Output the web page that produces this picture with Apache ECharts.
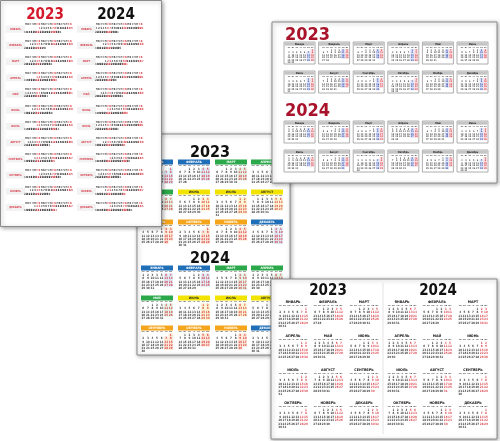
<!DOCTYPE html>
<html><head><meta charset="utf-8">
<script src="https://cdn.jsdelivr.net/npm/echarts@6/dist/echarts.min.js"></script>
<style>html,body{margin:0;padding:0;background:#fff}#c{width:500px;height:441px}</style>
</head><body><div id="c"></div>
<script>
const years = [2023, 2024];
const monthsUpper = ['ЯНВАРЬ','ФЕВРАЛЬ','МАРТ','АПРЕЛЬ','МАЙ','ИЮНЬ','ИЮЛЬ','АВГУСТ','СЕНТЯБРЬ','ОКТЯБРЬ','НОЯБРЬ','ДЕКАБРЬ'];
const monthsTitle = ['Январь','Февраль','Март','Апрель','Май','Июнь','Июль','Август','Сентябрь','Октябрь','Ноябрь','Декабрь'];
const dayNames = ['Вс','Пн','Вт','Ср','Чт','Пт','Сб'];
const dayLetters = ['П','В','С','Ч','П','С','В'];
const seasonColors = ['#1f6fb8','#1f6fb8','#2aa84a','#2aa84a','#2aa84a','#f2e400','#f2e400','#f2e400','#f5a51c','#f5a51c','#f5a51c','#1f6fb8'];
const seasonLight = ['#d3e2f2','#d3e2f2','#d9efdc','#d9efdc','#d9efdc','#faf4c4','#faf4c4','#faf4c4','#fbe2cc','#fbe2cc','#fbe2cc','#d3e2f2'];

function pad(n){return n<10?'0'+n:''+n;}
function monthDays(y,m){
  const out=[]; const n=new Date(y,m+1,0).getDate();
  for(let d=1;d<=n;d++){out.push({date:y+'-'+pad(m+1)+'-'+pad(d),day:d,wd:new Date(y,m,d).getDay()});}
  return out;
}
const FONT = "'Liberation Sans Narrow','DejaVu Sans Condensed','Liberation Sans',sans-serif";
const calendars=[], series=[], graphics=[];

function addCal(y,m,left,top,cw,ch,z,opt){
  const idx=calendars.length;
  calendars.push({
    orient:'vertical', range:y+'-'+pad(m+1), left:left, top:top, cellSize:[cw,ch], z:z,
    splitLine:{show:false}, itemStyle:{color:'rgba(0,0,0,0)',borderWidth:0},
    yearLabel:{show:false}, monthLabel:{show:false},
    dayLabel:{show:true, firstDay:1, position:'start', margin:1, fontSize:opt.dlSize||2.4, color:'#444', nameMap:dayNames, fontWeight:'bold'}
  });
  const days=monthDays(y,m);
  if(opt.shade){
    series.push({type:'scatter', coordinateSystem:'calendar', calendarIndex:idx, z:z, symbol:'rect', symbolSize:[cw,ch], silent:true,
      data:days.filter(d=>d.wd===0||d.wd===6).map(d=>({value:[d.date,d.day], itemStyle:{color:opt.shade(d.wd)}}))});
  }
  series.push({type:'scatter', coordinateSystem:'calendar', calendarIndex:idx, z:z+1, symbolSize:1, silent:true,
    itemStyle:{color:'rgba(0,0,0,0)'},
    label:{show:true, position:'inside', fontSize:opt.fs, fontWeight:'bold', fontFamily:FONT, formatter:p=>p.value[1]},
    data:days.map(d=>({value:[d.date,d.day], label:{color:opt.col(d.wd)}}))});
}
function card(x,y,w,h,z){
  graphics.push({type:'rect', z:z, shape:{x:x,y:y,width:w,height:h}, style:{fill:'#fff',stroke:'#8a8a8a',lineWidth:1,shadowBlur:4,shadowColor:'rgba(0,0,0,0.35)',shadowOffsetX:1,shadowOffsetY:1}});
}
function txt(t,x,y,size,color,z,align,weight){
  graphics.push({type:'text', z:z, style:{text:t,x:x,y:y,fill:color,font:(weight||'bold')+' '+size+'px '+FONT,textAlign:align||'center',textVerticalAlign:'middle'}});
}

// ---------- Sheet C (bottom layer) ----------
card(137,134,153,221,1);
txt('2023',210,153,16,'#111',2);
txt('2024',210,259,16,'#111',2);
const cCols=[141,178,215,251], cRows=[[162,192,222],[268,298,328]];
years.forEach((y,yi)=>{
  for(let m=0;m<12;m++){
    const x=cCols[m%4], hy=cRows[yi][Math.floor(m/4)];
    graphics.push({type:'rect', z:2, shape:{x:x,y:hy-2.5,width:32,height:5}, style:{fill:seasonColors[m]}});
    txt(monthsUpper[m],x+16,hy,3.2,(m>=5&&m<=7)?'#333':'#fff',2);
    addCal(y,m,x,hy+5.5,4.57,3.3,2,{fs:3,dlSize:2.2,shade:()=>seasonLight[m],col:wd=>wd===0||wd===6?'#d4202a':'#111'});
  }
});

// ---------- Sheet A ----------
card(0.5,0.5,161,226,10);
txt('2023',45,15,15,'#d41a2a',11);
txt('2024',116,15,15,'#111',11);
const aGrid = {left:0, top:0, width:162, height:227, z:11};
const aStartX=[11.5,43];
const aLetters=[], aNums=[], aLabels=[];
years.forEach((y,yi)=>{
  for(let m=0;m<12;m++){
    const base=m+1.75;
    aLabels.push({value:[aStartX[yi]-4.6, base+0.05], label:{formatter:monthsUpper[m]}});
    for(let c=0;c<21;c++) aLetters.push({value:[aStartX[yi]+c, base-0.22], label:{formatter:dayLetters[c%7], color:c%7>=5?'#d4202a':'#222'}});
    const days=monthDays(y,m); const off=(days[0].wd+6)%7;
    days.forEach(d=>{
      let k=off+d.day-1, row=0;
      if(k>=21){k-=21;row=1;}
      aNums.push({value:[aStartX[yi]+k, base+row*0.21], label:{formatter:''+d.day, color:(d.wd===0||d.wd===6)?'#d4202a':'#111'}});
    });
  }
});
const aLab={show:true,position:'inside',fontSize:2.9,fontWeight:'bold',fontFamily:FONT};
series.push({type:'scatter',xAxisIndex:0,yAxisIndex:0,z:11,symbol:'rect',symbolSize:[19,7],silent:true,itemStyle:{color:'#efefef'},
  label:Object.assign({},aLab,{color:'#d41a2a',fontSize:2.6}),data:aLabels});
series.push({type:'scatter',xAxisIndex:0,yAxisIndex:0,z:12,symbolSize:1,silent:true,itemStyle:{color:'rgba(0,0,0,0)'},label:Object.assign({},aLab,{fontSize:2.6}),data:aLetters});
series.push({type:'scatter',xAxisIndex:0,yAxisIndex:0,z:12,symbolSize:1,silent:true,itemStyle:{color:'rgba(0,0,0,0)'},label:aLab,data:aNums});

// ---------- Sheet B ----------
card(272,22,225,161,20);
txt('2023',285,35,18,'#a8122a',21,'left');
txt('2024',285,111,18,'#a8122a',21,'left');
const bRows=[[42,71],[121,150]];
years.forEach((y,yi)=>{
  for(let m=0;m<12;m++){
    const x=284+(m%6)*34.6, t=bRows[yi][Math.floor(m/6)];
    graphics.push({type:'rect',z:21,shape:{x:x,y:t,width:31,height:22},style:{fill:'#fff',stroke:'#999',lineWidth:0.8}});
    graphics.push({type:'rect',z:21,shape:{x:x+0.5,y:t+0.5,width:30,height:3.2},style:{fill:'#c4c4c4'}});
    txt(monthsTitle[m],x+15.5,t+2.1,2.6,'#222',21);
    addCal(y,m,x+3,t+7,3.9,2.45,21,{fs:2.3,dlSize:2,shade:wd=>wd===6?'#cfdaf5':'#f6d2d7',col:wd=>wd===6?'#1e2f9e':(wd===0?'#d4202a':'#111')});
  }
});

// ---------- Sheet D (top layer) ----------
card(271,279,226,160,30);
graphics.push({type:'line',z:31,shape:{x1:383,y1:283,x2:383,y2:434},style:{stroke:'#e2e2e2',lineWidth:1}});
txt('2023',328,291,15,'#111',31);
txt('2024',438,291,15,'#111',31);
const dCols=[293,328,364,402,437,473], dRows=[302,336,370,403];
years.forEach((y,yi)=>{
  for(let m=0;m<12;m++){
    const cx=dCols[yi*3+m%3], ly=dRows[Math.floor(m/3)];
    txt(monthsUpper[m],cx,ly,3.6,'#111',31);
    addCal(y,m,cx-15,ly+5,4.3,3.5,31,{fs:3,dlSize:2.3,col:wd=>wd===0||wd===6?'#d4202a':'#111'});
  }
});

const chart=echarts.init(document.getElementById('c'));
chart.setOption({
  animation:false,
  grid:[aGrid],
  xAxis:[{type:'value',min:0,max:72,show:false,gridIndex:0}],
  yAxis:[{type:'value',min:0,max:14,inverse:true,show:false,gridIndex:0}],
  calendar:calendars,
  series:series,
  graphic:graphics
});
</script></body></html>
